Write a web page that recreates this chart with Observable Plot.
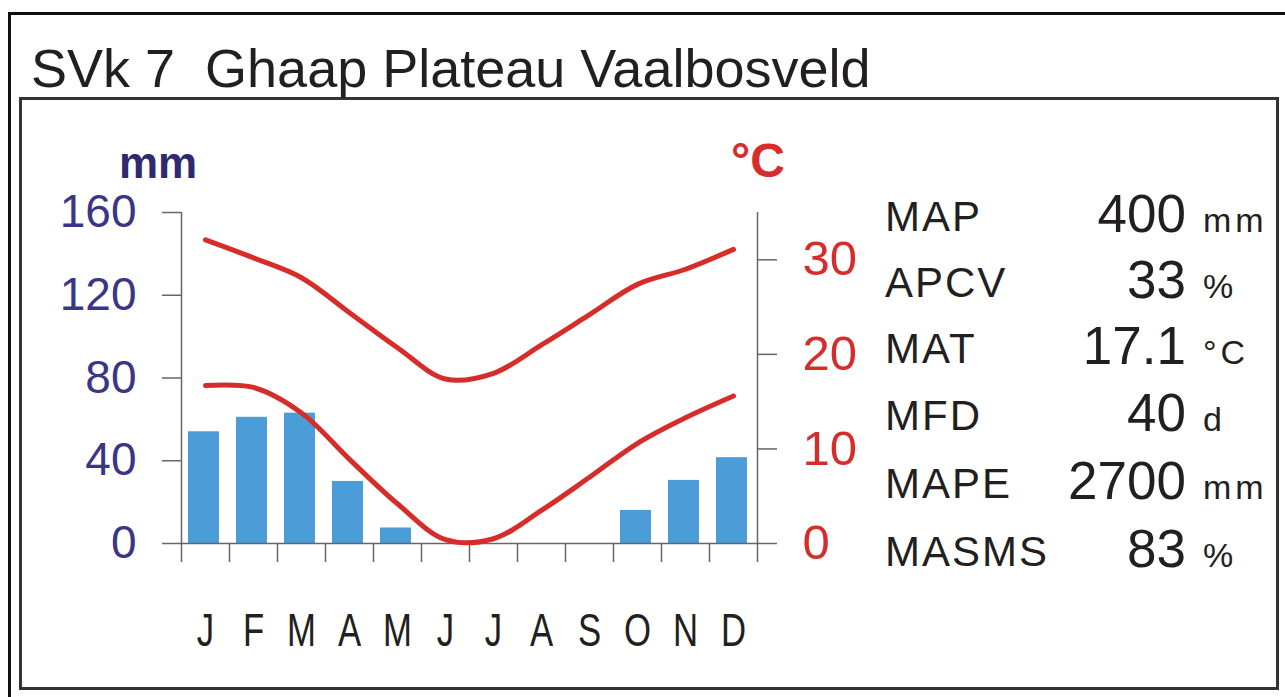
<!DOCTYPE html>
<html>
<head>
<meta charset="utf-8">
<script src="https://cdn.jsdelivr.net/npm/d3@7"></script>
<script src="https://cdn.jsdelivr.net/npm/@observablehq/plot@0.6"></script>
<style>
  body { margin: 0; background: #fff; font-family: "Liberation Sans", Arial, Helvetica, sans-serif; }
  #wrap { position: relative; width: 1285px; height: 697px; overflow: hidden; background: #fff; }
  #outer { position: absolute; left: 8px; top: 12px; width: 1400px; height: 800px; border-left: 3px solid #111; border-top: 3px solid #111; }
  #inner { position: absolute; left: 19px; top: 97px; width: 1254px; height: 587px; border: 3px solid #333; }
  .t { position: absolute; white-space: pre; color: #231f20; }
  #chart { position: absolute; left: 0; top: 0; }
</style>
</head>
<body>
<div id="wrap">
  <div id="outer"></div>
  <div id="inner"></div>
  <div id="chart"></div>
</div>
<script>
// ---- data ----
const titleText = "SVk 7  Ghaap Plateau Vaalbosveld";
const months = ["J","F","M","A","M","J","J","A","S","O","N","D"];
const rainfall = [54, 61, 63, 30, 7.5, 0, 0, 0, 0, 16, 30.5, 41.5];      // mm
const tmax = [32.1, 30.2, 28.1, 24.4, 20.7, 17.4, 18.0, 21.0, 24.2, 27.4, 29.0, 31.1]; // °C
const tmin = [16.7, 16.5, 13.8, 8.9, 4.2, 0.4, 0.5, 3.5, 7.0, 10.6, 13.3, 15.6];       // °C
const rainTicks = [0, 40, 80, 120, 160];
const tempTicks = [0, 10, 20, 30];
const rainTop = 160;
const tempTop = 35;
const statLabels = ["MAP", "APCV", "MAT", "MFD", "MAPE", "MASMS"];
const statValues = ["400", "33", "17.1", "40", "2700", "83"];
const statUnits = ["mm", "%", "°C", "d", "mm", "%"];

const RED = "#d62d2b", NAVY = "#3a3585", BLUE = "#4b9dd7", AX = "#666";
const k = rainTop / tempTop;
const data = months.map((m, i) => ({i, m, rain: rainfall[i], tmax: tmax[i], tmin: tmin[i]}));

const wrap = document.getElementById("wrap");
function addText(txt, opts) {
  const d = document.createElement("div");
  d.className = "t";
  d.textContent = txt;
  const F = opts.size;
  d.style.fontSize = F + "px";
  d.style.lineHeight = F + "px";
  d.style.top = (opts.baseline - 0.8465 * F) + "px";
  if (opts.right != null) { d.style.right = (1285 - opts.right) + "px"; d.style.textAlign = "right"; }
  else d.style.left = opts.left + "px";
  if (opts.color) d.style.color = opts.color;
  if (opts.bold) d.style.fontWeight = "bold";
  if (opts.ls) d.style.letterSpacing = opts.ls + "px";
  wrap.appendChild(d);
  return d;
}

// title
addText(titleText, {size: 54, baseline: 87, left: 31});
// axis unit labels
addText("mm", {size: 44, baseline: 178, left: 119, bold: true, color: "#2e2a6f"});
addText("°C", {size: 48, baseline: 178, left: 731, bold: true, color: RED});
// stats table
const rowBase = [232, 298, 364, 431, 499, 567];
statLabels.forEach((s, j) => {
  addText(s, {size: 42, baseline: rowBase[j], left: 885, ls: 2});
  addText(statValues[j], {size: 53, baseline: rowBase[j], right: 1186});
  addText(statUnits[j], {size: 34, baseline: rowBase[j], left: 1203, ls: 4});
});

const chart = Plot.plot({
  width: 1285,
  height: 697,
  marginLeft: 181,
  marginRight: 528,
  marginTop: 212,
  marginBottom: 154,
  style: {background: "transparent", fontFamily: "Liberation Sans, Arial, sans-serif", overflow: "visible"},
  x: {domain: [0, 12], axis: null, label: null},
  y: {domain: [0, rainTop], axis: null, label: null},
  marks: [
    Plot.rect(data, {x1: "i", x2: d => d.i + 1, y1: 0, y2: "rain", fill: BLUE, insetLeft: 7, insetRight: 10}),
    Plot.ruleY([0], {stroke: AX, strokeWidth: 1.5}),
    Plot.ruleX([0, 12], {stroke: AX, strokeWidth: 1.5}),
    Plot.axisY({anchor: "left", ticks: rainTicks, tickSize: 19, tickPadding: 26, fontSize: 46,
      stroke: AX, strokeWidth: 1.5, fill: NAVY, label: null}),
    Plot.axisY({anchor: "right", ticks: tempTicks.map(t => t * k), tickFormat: v => String(Math.round(v / k)),
      tickSize: 19, tickPadding: 26, fontSize: 49, stroke: AX, strokeWidth: 1.5, fill: RED, label: null}),
    Plot.axisX({anchor: "bottom", ticks: d3.range(13), tickSize: 19, tickFormat: () => "", stroke: AX, strokeWidth: 1.5, label: null}),
    Plot.axisX({anchor: "bottom", ticks: months.map((m, i) => i + 0.5), tickSize: 0, tickPadding: 69,
      tickFormat: v => months[Math.floor(v)], fontSize: 47, fill: "#231f20", label: null}),
    Plot.line(data, {x: d => d.i + 0.5, y: d => d.tmax * k, stroke: RED, strokeWidth: 5, curve: "catmull-rom"}),
    Plot.line(data, {x: d => d.i + 0.5, y: d => d.tmin * k, stroke: RED, strokeWidth: 5, curve: "catmull-rom"})
  ]
});
document.getElementById("chart").appendChild(chart);
// narrow the month letters like the original lettering
chart.querySelectorAll("text").forEach(t => {
  if (!/^[A-Z]$/.test(t.textContent.trim())) return;
  const tr = t.getAttribute("transform");
  if (tr && /translate/.test(tr)) {
    t.setAttribute("transform", tr + " scale(0.74,1)");
  } else {
    const x = +t.getAttribute("x") || 0;
    t.setAttribute("transform", `translate(${x},0) scale(0.74,1) translate(${-x},0)` + (tr ? " " + tr : ""));
  }
});
</script>
</body>
</html>
